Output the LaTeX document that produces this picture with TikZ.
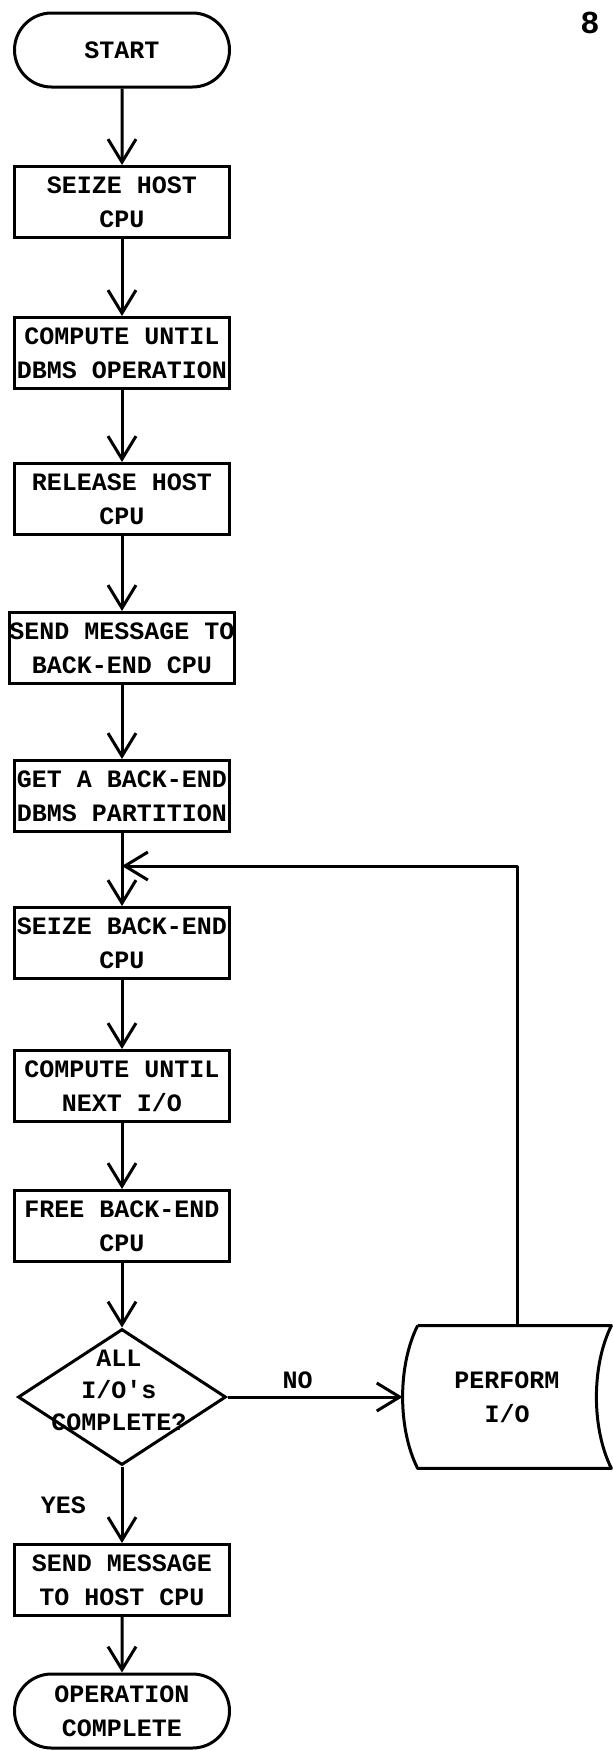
\documentclass[tikz,border=0pt]{standalone}
\usepackage{fontspec}
\setmonofont{Liberation Mono}
\usetikzlibrary{arrows.meta,shapes.geometric,shapes.misc}

\begin{document}
\begin{tikzpicture}[x=0.5pt,y=-0.5pt,
  >={Straight Barb[length=11.5pt,width=14pt]},
  every node/.style={font=\ttfamily\bfseries\fontsize{12.5}{17}\selectfont,align=center},
  bloc/.style={draw,line width=1.5pt,minimum width=107.5pt,minimum height=35.5pt,inner sep=0pt},
  terminal/.style={draw,line width=1.5pt,rounded rectangle,minimum width=107.5pt,minimum height=37pt,inner sep=0pt},
  test/.style={draw,line width=1.5pt,diamond,minimum width=104pt,minimum height=68pt,inner sep=0pt},
  ligne/.style={line width=1.5pt,line join=round}]
\useasboundingbox (0,0) rectangle (613,1751);
\node (page) at (590,23) [font=\ttfamily\bfseries\fontsize{16}{16}\selectfont] {8};
\node [terminal] (debut) at (122,50) {START};
\node [bloc] (bloc1) at (122,202) {SEIZE HOST\\CPU};
\node [bloc] (bloc2) at (122,353) {COMPUTE UNTIL\\DBMS OPERATION};
\node [bloc] (bloc3) at (122,499) {RELEASE HOST\\CPU};
\node [bloc] (bloc4) at (122,648) {SEND MESSAGE TO\\BACK-END CPU};
\node [bloc] (bloc5) at (122,796) {GET A BACK-END\\DBMS PARTITION};
\coordinate (retour) at (122,866);
\node [bloc] (bloc6) at (122,943) {SEIZE BACK-END\\CPU};
\node [bloc] (bloc7) at (122,1086) {COMPUTE UNTIL\\NEXT I/O};
\node [bloc] (bloc8) at (122,1226) {FREE BACK-END\\CPU};
\node [test] (test) at (122,1397) {};
\node (testtexte) at (119,1390) [font=\ttfamily\bfseries\fontsize{12.5}{16}\selectfont] {ALL\\I/O's\\COMPLETE?};
\node (es) at (507,1397) [minimum width=104pt,minimum height=71pt,inner sep=0pt] {PERFORM\\I/O};
\node [bloc] (bloc9) at (122,1580) {SEND MESSAGE\\TO HOST CPU};
\node [terminal] (fin) at (122,1711) {OPERATION\\COMPLETE};
\draw[ligne] ([xshift=7.5pt]es.north west) -- (es.north east) .. controls +(-20,40) and +(-20,-40) .. (es.south east) -- ([xshift=7.5pt]es.south west) .. controls +(-20,-40) and +(-20,40) .. ([xshift=7.5pt]es.north west);
\draw[->, ligne] (debut) -- (bloc1);
\draw[->, ligne] (bloc1) -- (bloc2);
\draw[->, ligne] (bloc2) -- (bloc3);
\draw[->, ligne] (bloc3) -- (bloc4);
\draw[->, ligne] (bloc4) -- (bloc5);
\draw[ligne] (bloc5) -- (retour);
\draw[->, ligne] (retour) -- (bloc6);
\draw[->, ligne] (bloc6) -- (bloc7);
\draw[->, ligne] (bloc7) -- (bloc8);
\draw[->, ligne] (bloc8) -- (test);
\draw[->, ligne] (test) -- node[pos=0.4, above] (non) {NO} (es);
\draw[->, ligne] (test) -- node[midway, left=14pt] (oui) {YES} (bloc9);
\draw[->, ligne] (bloc9) -- (fin);
\draw[->, ligne] ([xshift=5pt]es.north) |- (retour);
\end{tikzpicture}
\end{document}
